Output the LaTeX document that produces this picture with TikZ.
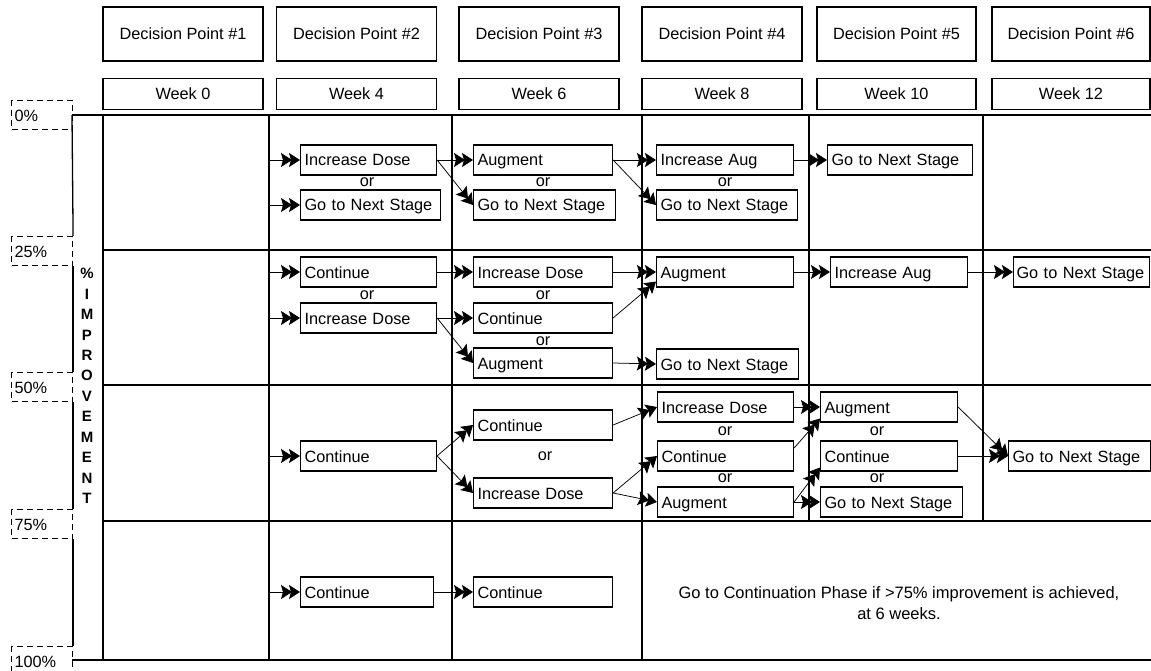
\documentclass[tikz,border=0pt]{standalone}
\usepackage{fontspec}
\setmainfont{Liberation Sans}
\usetikzlibrary{arrows.meta, positioning, calc}

\begin{document}
\begin{tikzpicture}[
    x=1pt, y=-1pt,
    font=\fontsize{16.3}{19}\selectfont,
    grid/.style={line width=1.3pt},
    header/.style={draw, line width=1.1pt, minimum width=160pt, minimum height=54pt, inner sep=0pt, text height=12pt, text depth=0pt},
    week/.style={draw, line width=1.1pt, minimum width=160pt, minimum height=31pt, inner sep=0pt, text height=12pt, text depth=0pt},
    pct/.style={draw, line width=1.1pt, dash pattern=on 6pt off 4pt, anchor=north west, minimum height=29pt, text width=55pt, inner xsep=3pt, inner ysep=0pt, text height=12pt, text depth=0pt, align=left},
    opt/.style={draw, line width=1.1pt, anchor=west, minimum height=30pt, inner xsep=4pt, inner ysep=0pt, text width=#1, text height=12pt, text depth=0pt, align=left},
    ortext/.style={inner sep=0pt},
    line/.style={line width=0.75pt, -{Stealth[length=11pt, width=14pt, inset=2pt, sep=-3pt]Stealth[length=11pt, width=14pt, inset=2pt]}}
]
\useasboundingbox (0,0) rectangle (1151,671);

% header row
\node[header] (dp1) at (183,34) {Decision Point \#1};
\node[header] (dp2) at (356.5,34) {Decision Point \#2};
\node[header] (dp3) at (539,34) {Decision Point \#3};
\node[header] (dp4) at (722,34) {Decision Point \#4};
\node[header, minimum width=159pt] (dp5) at (896.5,34) {Decision Point \#5};
\node[header, minimum width=158pt] (dp6) at (1071,34) {Decision Point \#6};

\node[week, below=16pt of dp1] (wk1) {Week 0};
\node[week, below=16pt of dp2] (wk2) {Week 4};
\node[week, below=16pt of dp3] (wk3) {Week 6};
\node[week, below=16pt of dp4] (wk4) {Week 8};
\node[week, minimum width=159pt, below=16pt of dp5] (wk5) {Week 10};
\node[week, minimum width=158pt, below=16pt of dp6] (wk6) {Week 12};

% percentage scale
\node[pct] (p0) at (11,100) {0\%};
\node[pct] (p25) at (11,236) {25\%};
\node[pct] (p50) at (11,372) {50\%};
\node[pct] (p75) at (11,509) {75\%};
\node[pct] (p100) at (11,646) {100\%};

\draw[grid] (72,115) -- (p25.north east);
\draw[grid] (p25.south east) -- (p50.north east);
\draw[grid] (p50.south east) -- (p75.north east);
\draw[grid] (p75.south east) -- (p100.north east);

\node[font=\bfseries\fontsize{15}{20.45}\selectfont, align=center, inner sep=0pt] (improve) at (87,386) {\%\\I\\M\\P\\R\\O\\V\\E\\M\\E\\N\\T};

% grid
\draw[grid] (72,115) -- (1151,115);
\draw[grid] (103,250) -- (1151,250);
\draw[grid] (103,385) -- (1151,385);
\draw[grid] (103,521) -- (1151,521);
\draw[grid] (72,660) -- (1151,660);
\foreach \x in {103,269,452,642}
    \draw[grid] (\x,115) -- (\x,660);
\foreach \x in {809,983}
    \draw[grid] (\x,115) -- (\x,521);

% row 0-25%
\coordinate (aIn1) at (269,160);
\coordinate (aIn2) at (269,205);
\node[opt=128pt] (aIncDose) at (300,160) {Increase Dose};
\node[opt=132pt] (aGoNext2) at (300,205) {Go to Next Stage};
\node[opt=131pt] (aAug) at (473,160) {Augment};
\node[opt=134pt] (aGoNext3) at (473,205) {Go to Next Stage};
\node[opt=129pt] (aIncAug) at (656,160) {Increase Aug};
\node[opt=133pt] (aGoNext4) at (656,205) {Go to Next Stage};
\node[opt=137pt] (aGoNext5) at (827,160) {Go to Next Stage};
\node[ortext] (aOr2) at (367,182) {or};
\node[ortext] (aOr3) at (543,182) {or};
\node[ortext] (aOr4) at (725,182) {or};

\draw[line] (aIn1) -- (aIncDose);
\draw[line] (aIn2) -- (aGoNext2);
\draw[line] (aIncDose) -- (aAug);
\draw[line] (aIncDose.east) -- (aGoNext3.west);
\draw[line] (aAug) -- (aIncAug);
\draw[line] (aAug.east) -- (aGoNext4.west);
\draw[line] (aIncAug) -- (aGoNext5);

% row 25-50%
\coordinate (bIn1) at (269,272);
\coordinate (bIn2) at (269,318);
\node[opt=128pt] (bCont2) at (300,272) {Continue};
\node[opt=128pt] (bIncDose2) at (300,318) {Increase Dose};
\node[opt=131pt] (bIncDose3) at (473,272) {Increase Dose};
\node[opt=131pt] (bCont3) at (473,318) {Continue};
\node[opt=131pt] (bAug3) at (473,363) {Augment};
\node[opt=129pt] (bAug4) at (656,272) {Augment};
\node[opt=134pt] (bGoNext4) at (656,364) {Go to Next Stage};
\node[opt=129pt] (bIncAug5) at (830,272) {Increase Aug};
\node[opt=130pt, inner xsep=3pt] (bGoNext6) at (1013,272) {Go to Next Stage};
\node[ortext] (bOr2) at (367,295) {or};
\node[ortext] (bOr3a) at (543,295) {or};
\node[ortext] (bOr3b) at (543,341) {or};

\draw[line] (bIn1) -- (bCont2);
\draw[line] (bIn2) -- (bIncDose2);
\draw[line] (bCont2) -- (bIncDose3);
\draw[line] (bIncDose2) -- (bCont3);
\draw[line] (bIncDose2.east) -- (bAug3.west);
\draw[line] (bIncDose3) -- (bAug4);
\draw[line] (bCont3.east) -- ($(bAug4.south west)+(0,-6)$);
\draw[line] (bAug3.east) -- (bGoNext4.west);
\draw[line] (bAug4) -- (bIncAug5);
\draw[line] (bIncAug5) -- (bGoNext6);

% row 50-75%
\coordinate (cIn) at (269,456);
\node[opt=128pt] (cCont2) at (300,456) {Continue};
\node[opt=131pt] (cCont3) at (473,425) {Continue};
\node[opt=131pt] (cIncDose3) at (473,493) {Increase Dose};
\node[opt=128pt] (cIncDose4) at (657,407) {Increase Dose};
\node[opt=128pt] (cCont4) at (657,456) {Continue};
\node[opt=128pt] (cAug4) at (657,502) {Augment};
\node[opt=129pt] (cAug5) at (820,407) {Augment};
\node[opt=129pt] (cCont5) at (820,456) {Continue};
\node[opt=134pt] (cGoNext5) at (820,502) {Go to Next Stage};
\node[opt=134pt] (cGoNext6) at (1008,456) {Go to Next Stage};
\node[ortext] (cOr3) at (545,456) {or};
\node[ortext] (cOr4a) at (725,431) {or};
\node[ortext] (cOr4b) at (725,478) {or};
\node[ortext] (cOr5a) at (877,431) {or};
\node[ortext] (cOr5b) at (877,478) {or};

\draw[line] (cIn) -- (cCont2);
\draw[line] (cCont2.east) -- (cCont3.west);
\draw[line] (cCont2.east) -- (cIncDose3.west);
\draw[line] (cCont3.east) -- (cIncDose4.west);
\draw[line] (cIncDose3.east) -- (cCont4.west);
\draw[line] (cIncDose3.east) -- (cAug4.west);
\draw[line] (cIncDose4) -- (cAug5);
\draw[line] ($(cCont4.east)+(0,-8)$) -- ($(cAug5.south west)+(0,-4)$);
\draw[line] (cAug4.east) -- ($(cCont5.south west)+(0,-4)$);
\draw[line] (cAug4.east) -- (cGoNext5.west);
\draw[line] (cAug5.east) -- (cGoNext6.west);
\draw[line] (cCont5) -- (cGoNext6);

% row 75-100%
\coordinate (dIn) at (269,592);
\node[opt=125pt] (dCont2) at (300,592) {Continue};
\node[opt=131pt] (dCont3) at (473,592) {Continue};
\node[align=center, font=\fontsize{16.5}{21}\selectfont] (note) at (899,603) {Go to Continuation Phase if >75\% improvement is achieved,\\at 6 weeks.};

\draw[line] (dIn) -- (dCont2);
\draw[line] (dCont2) -- (dCont3);

\end{tikzpicture}
\end{document}
